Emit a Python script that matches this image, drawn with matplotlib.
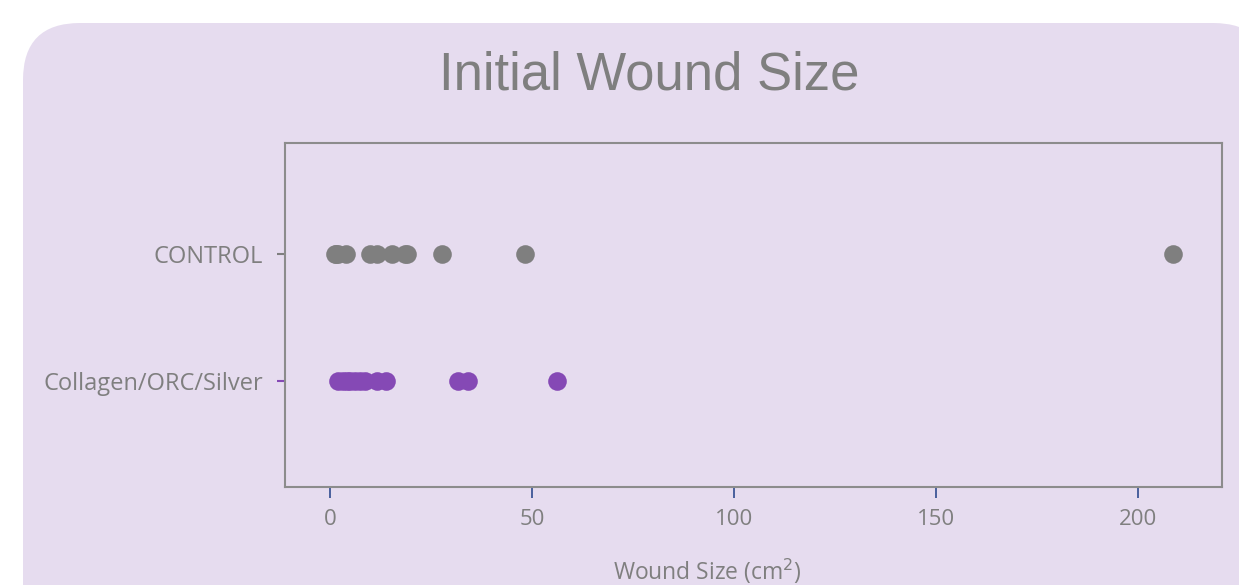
import matplotlib.pyplot as plt
import matplotlib.patches as patches
import numpy as np

# Wound sizes (cm2)
control = [1.2, 1.6, 2.0, 4.1, 9.9, 11.6, 15.3, 18.6, 19.2, 27.8, 48.3, 208.7]
collagen = [2.1, 3.2, 4.2, 4.9, 6.2, 7.4, 8.7, 11.6, 14.0, 31.8, 34.2, 56.1]
groups = ["Collagen/ORC/Silver", "CONTROL"]
xticks = [0, 50, 100, 150, 200]

gray = "#7f7f7f"
purple = "#8549b5"
navy = "#2f4b8f"
bg = "#e6dcef"

fig = plt.figure(figsize=(12.39, 5.85), dpi=100)
fig.patch.set_facecolor("white")

# rounded lavender panel behind everything (pixel coords)
panel = patches.FancyBboxPatch((23, -200), 1247, 762,
                               boxstyle="round,pad=0,rounding_size=57",
                               transform=None, facecolor=bg, edgecolor="none",
                               zorder=-5)
fig.patches.append(panel)

W, H = 1239, 585
ax = fig.add_axes([285 / W, 1 - 487 / H, (1222 - 285) / W, (487 - 143) / H])
ax.set_zorder(2)
ax.set_facecolor(bg)

ax.scatter(control, np.ones(len(control)), s=180, color=gray, zorder=3,
           linewidths=0)
ax.scatter(collagen, np.zeros(len(collagen)), s=180, color=purple, zorder=3,
           linewidths=0)

ax.set_xlim(-11.1, 220.8)
ax.set_ylim(-0.835, 1.874)

for s in ax.spines.values():
    s.set_color("#8c8c8c")
    s.set_linewidth(1.5)

ax.set_xticks(xticks)
ax.set_xticklabels([str(t) for t in xticks], fontsize=16, color=gray,
                   family="Open Sans")
ax.tick_params(axis="x", colors=navy, length=8, width=1.2, pad=8,
               labelcolor=gray)

ax.set_yticks([0, 1])
ax.set_yticklabels(groups, fontsize=17, color=gray, family="Open Sans")
ax.tick_params(axis="y", length=6, width=1.5, pad=10, colors=gray,
               labelcolor=gray)
ticks = ax.yaxis.get_major_ticks()
ticks[0].tick1line.set_markeredgecolor(purple)

fig.text(649 / W, 1 - 75 / H, "Initial Wound Size", ha="center", va="center",
         fontsize=38, color=gray, family="Liberation Sans")
fig.text(707 / W, 1 - 571 / H, "Wound Size (cm$^2$)", ha="center",
         va="center", fontsize=16.5, color=gray, family="Open Sans")

fig.savefig("out.png", dpi=100, facecolor=fig.get_facecolor())
